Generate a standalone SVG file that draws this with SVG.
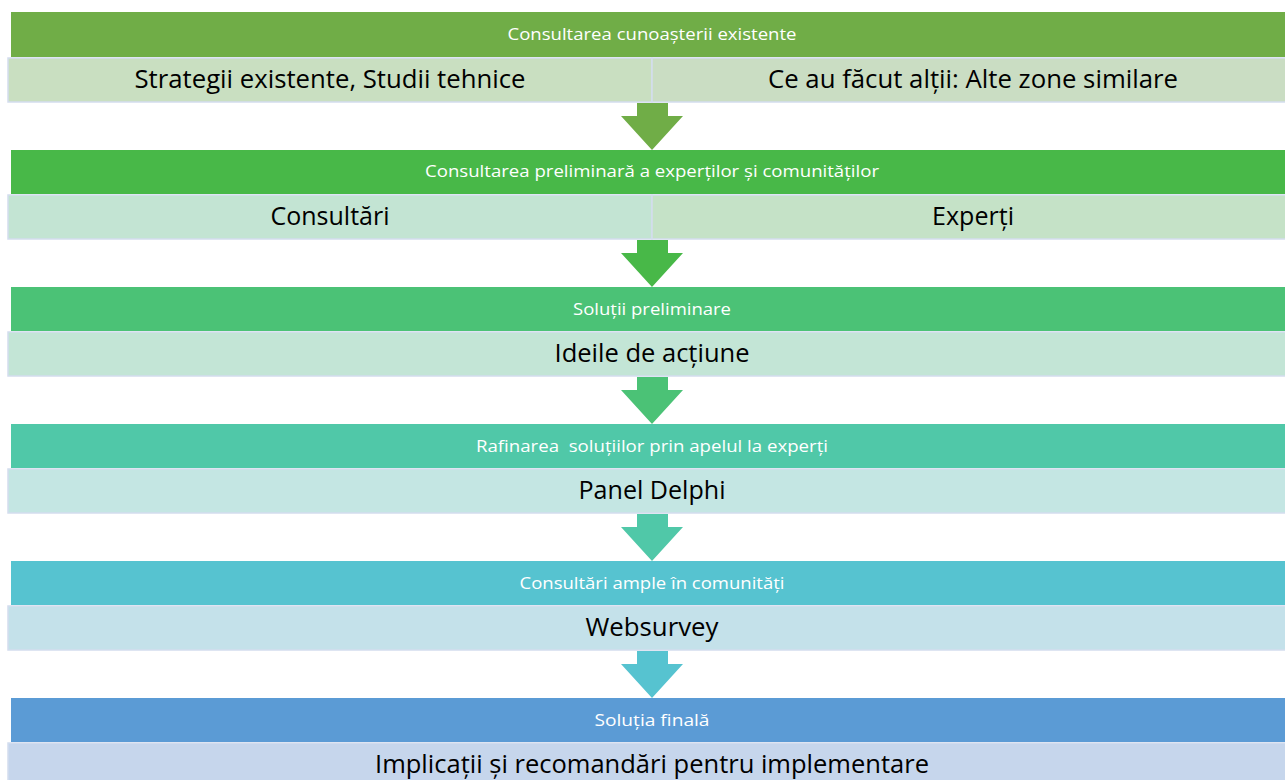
<svg xmlns="http://www.w3.org/2000/svg" width="1285" height="780" viewBox="0 0 1285 780">
<style>
.hd{font-family:"Open Sans","Liberation Sans",sans-serif;font-size:16px;fill:#ffffff;text-anchor:middle}
.sb{font-family:"Open Sans","Liberation Sans",sans-serif;font-size:26px;fill:#000000;text-anchor:middle}
.sub{stroke:#D3DDEE;stroke-width:1.5}
</style>
<rect width="1285" height="780" fill="#ffffff"/>
<g id="connectors">
<polygon points="637,103 668,103 668,116 683,116 652,150 621,116 637,116" fill="#70AD47"/>
<polygon points="637,240 668,240 668,253 683,253 652,287 621,253 637,253" fill="#48B848"/>
<polygon points="637,377 668,377 668,390 683,390 652,424 621,390 637,390" fill="#4BC276"/>
<polygon points="637,514 668,514 668,527 683,527 652,561 621,527 637,527" fill="#50C8A8"/>
<polygon points="637,651 668,651 668,664 683,664 652,698 621,664 637,664" fill="#56C3D0"/>
</g>
<g id="node1">
<rect x="11" y="12" width="1290" height="45" fill="#70AD47"/>
<rect class="sub" x="8" y="58" width="644" height="44" fill="#C9DFC1"/>
<rect class="sub" x="652" y="58" width="650" height="44" fill="#CADDC3"/>
<text class="hd" x="652" y="40" textLength="289" lengthAdjust="spacingAndGlyphs">Consultarea cunoașterii existente</text>
<text class="sb" x="330" y="88" textLength="391" lengthAdjust="spacingAndGlyphs">Strategii existente, Studii tehnice</text>
<text class="sb" x="973" y="88" textLength="410" lengthAdjust="spacingAndGlyphs">Ce au făcut alții: Alte zone similare</text>
</g>
<g id="node2">
<rect x="11" y="150" width="1290" height="44" fill="#48B848"/>
<rect class="sub" x="8" y="195" width="644" height="44" fill="#C3E4D3"/>
<rect class="sub" x="652" y="195" width="650" height="44" fill="#C5E2C7"/>
<text class="hd" x="652" y="177" textLength="454" lengthAdjust="spacingAndGlyphs">Consultarea preliminară a experților și comunităților</text>
<text class="sb" x="330" y="225" textLength="119" lengthAdjust="spacingAndGlyphs">Consultări</text>
<text class="sb" x="973" y="225" textLength="82" lengthAdjust="spacingAndGlyphs">Experți</text>
</g>
<g id="node3">
<rect x="11" y="287" width="1290" height="44" fill="#4BC276"/>
<rect class="sub" x="8" y="332" width="1294" height="44" fill="#C3E5D6"/>
<text class="hd" x="652" y="315" textLength="158" lengthAdjust="spacingAndGlyphs">Soluții preliminare</text>
<text class="sb" x="652" y="362" textLength="195" lengthAdjust="spacingAndGlyphs">Ideile de acțiune</text>
</g>
<g id="node4">
<rect x="11" y="424" width="1290" height="44" fill="#50C8A8"/>
<rect class="sub" x="8" y="469" width="1294" height="44" fill="#C4E6E3"/>
<text class="hd" x="652" y="452" textLength="352" lengthAdjust="spacingAndGlyphs" xml:space="preserve">Rafinarea  soluțiilor prin apelul la experți</text>
<text class="sb" x="652" y="499" textLength="147" lengthAdjust="spacingAndGlyphs">Panel Delphi</text>
</g>
<g id="node5">
<rect x="11" y="561" width="1290" height="44" fill="#56C3D0"/>
<rect class="sub" x="8" y="606" width="1294" height="44" fill="#C4E1EA"/>
<text class="hd" x="652" y="589" textLength="265" lengthAdjust="spacingAndGlyphs">Consultări ample în comunități</text>
<text class="sb" x="652" y="636" textLength="133" lengthAdjust="spacingAndGlyphs">Websurvey</text>
</g>
<g id="node6">
<rect x="11" y="698" width="1290" height="44" fill="#5B9BD5"/>
<rect class="sub" x="8" y="743" width="1294" height="44" fill="#C6D6EC"/>
<text class="hd" x="652" y="726" textLength="115" lengthAdjust="spacingAndGlyphs">Soluția finală</text>
<text class="sb" x="652" y="773" textLength="554" lengthAdjust="spacingAndGlyphs">Implicații și recomandări pentru implementare</text>
</g>
</svg>
